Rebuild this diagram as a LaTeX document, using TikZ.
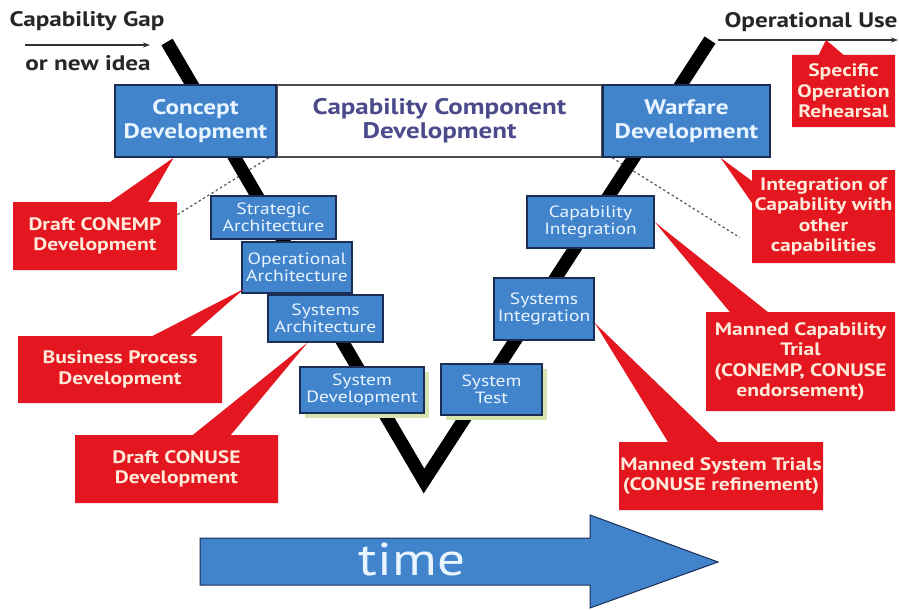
\documentclass[tikz,border=0pt]{standalone}
\usepackage{fontspec}
\setmainfont[FakeStretch=1.2]{PT Sans}
\usetikzlibrary{shapes.callouts,shadows,backgrounds,calc,arrows.meta}
\definecolor{vblue}{RGB}{66,132,204}
\definecolor{vnavy}{RGB}{25,45,85}
\definecolor{vred}{RGB}{228,22,32}
\definecolor{vcream}{RGB}{255,234,218}
\definecolor{vslate}{RGB}{75,75,140}
\definecolor{vpale}{RGB}{232,244,255}
\definecolor{vgreen}{RGB}{214,228,176}
\tikzset{
  phasebox/.style={rectangle, draw=vnavy, line width=1.5pt, fill=vblue, minimum height=72pt, inner sep=0pt, align=center, text=vpale, font=\bfseries\fontsize{21}{24}\selectfont},
  stepbox/.style={rectangle, draw=vnavy, line width=1.5pt, fill=vblue, inner sep=0pt, align=center, text=vpale, font=\fontsize{16.3}{17.5}\selectfont},
  notebox/.style={rectangle callout, fill=vred, inner sep=0pt, align=center, text=vcream, callout pointer width=38pt, font=\bfseries\fontsize{18}{20.5}\selectfont},
  toplabel/.style={inner sep=0pt, text=black!85, font=\bfseries\fontsize{21}{22}\selectfont},
  shadowed/.style={drop shadow={fill=vgreen, opacity=1, shadow xshift=5pt, shadow yshift=-5pt}},
  vline/.style={line width=13pt, black, line cap=butt, line join=miter},
  flowline/.style={draw=black!80, line width=1.2pt, -{Stealth[length=7pt,width=5pt]}},
  guide/.style={draw=black!65, line width=1.2pt, dash pattern=on 2.5pt off 2.5pt},
  timearrow/.style={draw=vnavy, line width=1pt, fill=vblue}
}
\begin{document}
\begin{tikzpicture}[x=1pt,y=-1pt]
\begin{pgfonlayer}{background}
\fill[white] (0,0) rectangle (899,610);
\end{pgfonlayer}
\useasboundingbox (0,0) rectangle (899,610);
% entry and exit
\node[toplabel] (gap) at (87,21) {Capability Gap};
\node[toplabel] (idea) at (88,63) {or new idea};
\coordinate (gapL) at (25,45);
\coordinate (gapR) at (150,45);
\draw[flowline] (gapL) -- (gapR);
\node[toplabel] (OU) at (811,22) {Operational Use};
\coordinate (OUl) at (718,40);
\coordinate (OUr) at (898,40);
\draw[flowline] (OUl) -- (OUr);
% the V
\coordinate (Vl) at (167,42);
\coordinate (Vb) at (424,481);
\coordinate (Vr) at (710,40);
\draw[vline] (Vl) -- (Vb) -- (Vr);
% top band
\node[phasebox, minimum width=161pt] (CD) at (195.5,121) {Concept\\Development};
\node[phasebox, fill=white, draw=black!70, text=vslate, minimum width=324pt, anchor=west, font=\bfseries\fontsize{22.5}{24}\selectfont] (CCD) at (CD.east) {Capability Component\\Development};
\node[phasebox, minimum width=167pt, anchor=west] (WD) at (CCD.east) {Warfare\\Development};
% steps down and up the V
\node[stepbox, minimum width=125pt, minimum height=43pt] (SA) at (273.5,217.5) {Strategic\\Architecture};
\node[stepbox, minimum width=110pt, minimum height=51pt] (OA) at (297,267.5) {Operational\\Architecture};
\node[stepbox, minimum width=115pt, minimum height=47pt] (SysA) at (325.5,318.5) {Systems\\Architecture};
\node[stepbox, shadowed, minimum width=124pt, minimum height=46pt] (SD) at (362,390) {System\\Development};
\node[stepbox, shadowed, minimum width=101pt, minimum height=51pt] (ST) at (491.5,389.5) {System\\Test};
\node[stepbox, minimum width=100pt, minimum height=62pt] (SI) at (544,309) {Systems\\Integration};
\node[stepbox, minimum width=127pt, minimum height=52pt] (CI) at (590.5,222) {Capability\\Integration};
% callouts
\node[notebox, minimum width=164pt, minimum height=68pt, callout absolute pointer={([xshift=-22pt]CD.south)}] (DCE) at (95,236) {Draft CONEMP\\Development};
\node[notebox, minimum width=204pt, minimum height=67pt, callout absolute pointer={([xshift=3pt,yshift=5pt]OA.south west)}] (BPD) at (120,369.5) {Business Process\\Development};
\node[notebox, minimum width=203pt, minimum height=68pt, callout absolute pointer={([xshift=-18pt]SysA.south)}] (DCU) at (176.5,469) {Draft CONUSE\\Development};
\node[notebox, minimum width=103pt, minimum height=72pt, callout pointer width=25pt, callout absolute pointer={($(OUl)!.6!(OUr)$)}] (SOR) at (843.5,91) {Specific\\Operation\\Rehearsal};
\node[notebox, minimum width=143pt, minimum height=93pt, callout pointer width=22pt, callout absolute pointer={([xshift=34pt]WD.south)}] (ICO) at (823.5,216.5) {Integration of\\Capability with\\other\\capabilities};
\node[notebox, minimum width=189pt, minimum height=99pt, callout absolute pointer={(CI.east)}] (MCT) at (800.5,361.5) {Manned Capability\\Trial\\(CONEMP, CONUSE\\endorsement)};
\node[notebox, minimum width=204pt, minimum height=68pt, callout pointer width=50pt, callout absolute pointer={([yshift=-14pt]SI.east)}] (MST) at (721,476) {Manned System Trials\\(CONUSE refinement)};
% dashed guides
\begin{pgfonlayer}{background}
\draw[guide] ([xshift=-8pt]CD.south east) -- ([yshift=-13pt]DCE.north east);
\draw[guide] ([xshift=10pt]WD.south west) -- ([xshift=-12pt,yshift=-21pt]ICO.west);
\end{pgfonlayer}
% time
\draw[timearrow] (200,538) -- (590,538) -- (590,515) -- (718,562) -- (590,608) -- (590,585) -- (200,585) -- cycle;
\node[text=vpale, font=\fontsize{46}{48}\selectfont] (time) at (412,559) {time};
\end{tikzpicture}
\end{document}
